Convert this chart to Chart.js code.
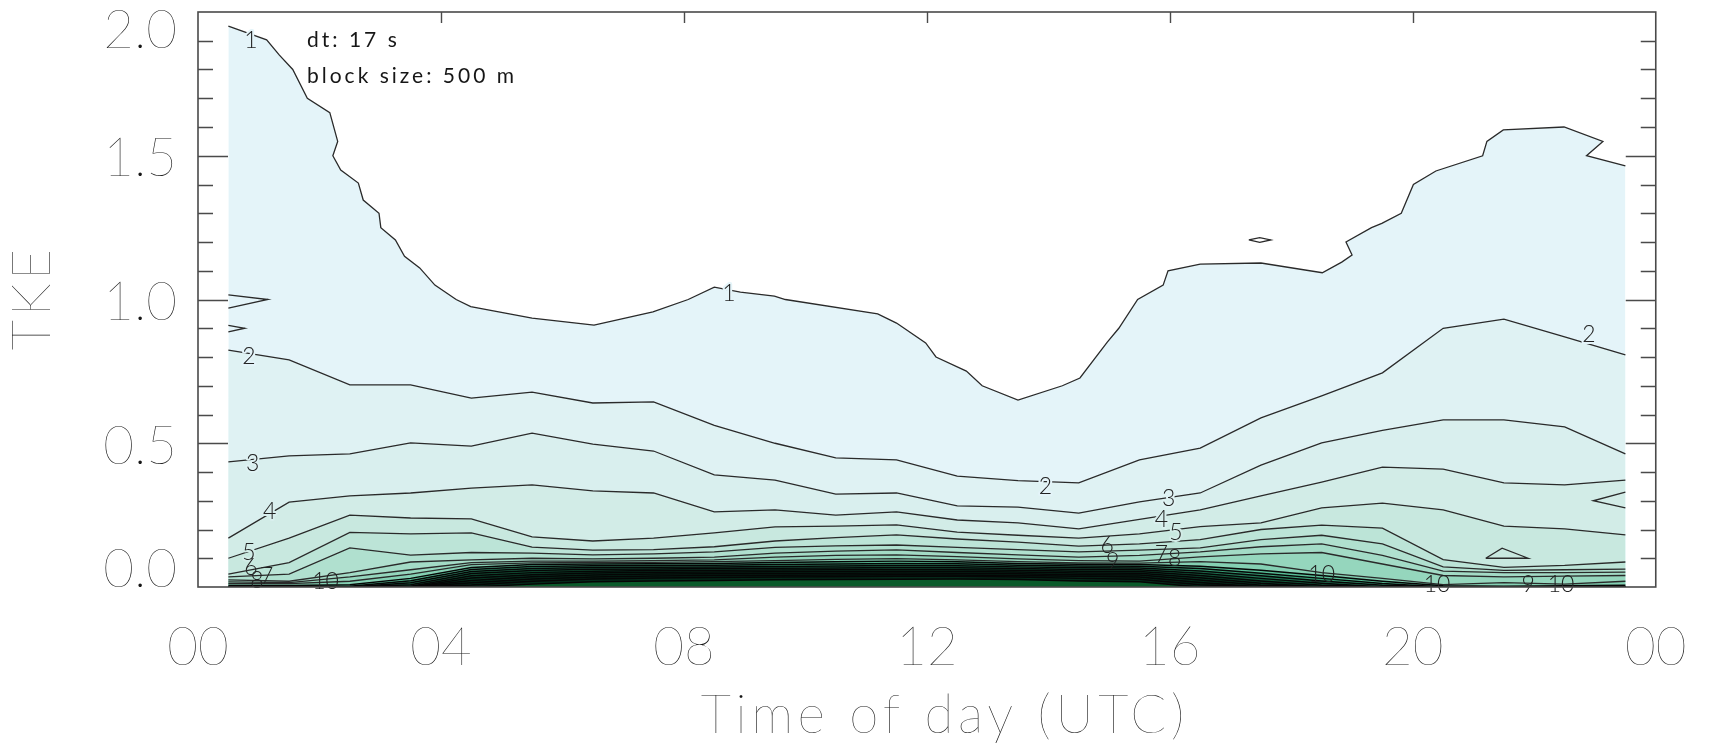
<!DOCTYPE html>
<html>
<head>
<meta charset="utf-8">
<script src="https://cdn.jsdelivr.net/npm/chart.js@4.4.0/dist/chart.umd.min.js"></script>
<style>
  html, body { margin: 0; padding: 0; background: #fff; }
  #wrap { width: 1721px; height: 745px; position: relative; }
</style>
</head>
<body>
<div id="wrap"><canvas id="tke-chart"></canvas></div>
<script>
// grid of the field (hour centres)
const hours = [0.5, 1.5, 2.5, 3.5, 4.5, 5.5, 6.5, 7.5, 8.5, 9.5, 10.5, 11.5,
               12.5, 13.5, 14.5, 15.5, 16.5, 17.5, 18.5, 19.5, 20.5, 21.5, 22.5, 23.5];

// contour 1 has its own vertices (it wanders a lot)
const hours1 = [0.5, 1.13, 1.34, 1.56, 1.80, 2.17, 2.30, 2.22, 2.35, 2.64, 2.72, 2.98, 3.01, 3.25, 3.40,
                3.65, 3.90, 4.25, 4.49, 5.50, 6.52, 7.49, 8.07, 8.50, 8.93, 9.49, 9.67, 11.19, 11.50,
                11.98, 12.15, 12.65, 12.91, 13.50, 14.23, 14.52, 14.97, 15.16, 15.47, 15.89, 15.97,
                16.50, 17.50, 18.51, 18.83, 19.00, 18.90, 19.32, 19.49, 19.81, 20.01, 20.38, 21.15,
                21.22, 21.49, 22.49, 23.13, 22.86, 23.50];
const tke1 = [1.951, 1.903, 1.850, 1.800, 1.700, 1.650, 1.550, 1.500, 1.450, 1.405, 1.346, 1.300, 1.250,
              1.207, 1.150, 1.110, 1.050, 1.000, 0.975, 0.935, 0.911, 0.957, 1.000, 1.043, 1.026, 1.012,
              1.000, 0.950, 0.918, 0.849, 0.800, 0.751, 0.700, 0.650, 0.700, 0.727, 0.852, 0.900, 1.000,
              1.050, 1.100, 1.123, 1.127, 1.093, 1.130, 1.155, 1.200, 1.250, 1.265, 1.300, 1.400, 1.447,
              1.500, 1.550, 1.590, 1.600, 1.550, 1.500, 1.465];

const tke2  = [0.824, 0.790, 0.703, 0.703, 0.657, 0.678, 0.640, 0.644, 0.562, 0.500, 0.449, 0.442, 0.386, 0.370, 0.362, 0.442, 0.483, 0.588, 0.665, 0.745, 0.900, 0.932, 0.870, 0.807];
const tke3  = [0.435, 0.456, 0.463, 0.501, 0.490, 0.535, 0.497, 0.473, 0.390, 0.372, 0.323, 0.327, 0.282, 0.278, 0.257, 0.296, 0.327, 0.424, 0.501, 0.545, 0.581, 0.581, 0.557, 0.463];
const tke4  = [0.170, 0.295, 0.317, 0.327, 0.344, 0.355, 0.334, 0.327, 0.261, 0.268, 0.250, 0.261, 0.233, 0.223, 0.202, 0.235, 0.268, 0.317, 0.365, 0.417, 0.410, 0.362, 0.355, 0.372];
const tke5  = [0.100, 0.170, 0.250, 0.240, 0.237, 0.174, 0.160, 0.170, 0.188, 0.209, 0.212, 0.216, 0.191, 0.180, 0.170, 0.185, 0.210, 0.223, 0.275, 0.292, 0.268, 0.212, 0.202, 0.181];
const tke6  = [0.045, 0.085, 0.190, 0.185, 0.188, 0.139, 0.128, 0.130, 0.140, 0.160, 0.172, 0.181, 0.167, 0.156, 0.142, 0.150, 0.165, 0.200, 0.215, 0.205, 0.095, 0.068, 0.075, 0.087];
const tke7  = [0.035, 0.045, 0.136, 0.111, 0.120, 0.118, 0.112, 0.115, 0.122, 0.138, 0.143, 0.146, 0.138, 0.130, 0.122, 0.128, 0.136, 0.165, 0.180, 0.150, 0.070, 0.058, 0.060, 0.062];
const tke8  = [0.025, 0.020, 0.050, 0.087, 0.094, 0.100, 0.098, 0.100, 0.104, 0.118, 0.125, 0.129, 0.120, 0.112, 0.104, 0.110, 0.122, 0.140, 0.150, 0.110, 0.055, 0.050, 0.050, 0.052];
const tke9  = [0.018, 0.015, 0.035, 0.060, 0.085, 0.090, 0.090, 0.092, 0.094, 0.104, 0.110, 0.112, 0.106, 0.098, 0.092, 0.090, 0.105, 0.115, 0.120, 0.080, 0.040, 0.035, 0.038, 0.040];
const tke10 = [0.012, 0.012, 0.020, 0.045, 0.078, 0.084, 0.086, 0.086, 0.088, 0.092, 0.096, 0.099, 0.094, 0.088, 0.084, 0.083, 0.088, 0.080, 0.050, 0.030, 0.008, 0.015, 0.010, 0.020];
const tke12 = [0.005, 0.005, 0.008, 0.030, 0.068, 0.078, 0.080, 0.081, 0.082, 0.085, 0.088, 0.090, 0.088, 0.082, 0.079, 0.078, 0.072, 0.058, 0.040, 0.020, 0.004, 0.003, 0.004, 0.006];
const tke14 = [0.000, 0.000, 0.003, 0.022, 0.061, 0.071, 0.074, 0.075, 0.076, 0.078, 0.080, 0.082, 0.081, 0.076, 0.073, 0.072, 0.064, 0.048, 0.030, 0.012, 0.000, 0.000, 0.000, 0.000];
const tke16 = [0.000, 0.000, 0.000, 0.015, 0.054, 0.064, 0.068, 0.069, 0.070, 0.071, 0.073, 0.075, 0.074, 0.070, 0.067, 0.066, 0.056, 0.039, 0.021, 0.006, 0.000, 0.000, 0.000, 0.000];
const tke18 = [0.000, 0.000, 0.000, 0.008, 0.047, 0.057, 0.062, 0.063, 0.064, 0.065, 0.066, 0.068, 0.067, 0.064, 0.061, 0.060, 0.048, 0.030, 0.013, 0.000, 0.000, 0.000, 0.000, 0.000];
const tke20 = [0.000, 0.000, 0.000, 0.003, 0.039, 0.050, 0.055, 0.057, 0.058, 0.059, 0.060, 0.061, 0.060, 0.058, 0.055, 0.054, 0.040, 0.021, 0.006, 0.000, 0.000, 0.000, 0.000, 0.000];
const tke22 = [0.000, 0.000, 0.000, 0.000, 0.031, 0.043, 0.049, 0.051, 0.052, 0.053, 0.054, 0.055, 0.054, 0.052, 0.049, 0.048, 0.032, 0.013, 0.000, 0.000, 0.000, 0.000, 0.000, 0.000];
const tke24 = [0.000, 0.000, 0.000, 0.000, 0.023, 0.036, 0.042, 0.045, 0.046, 0.047, 0.048, 0.049, 0.048, 0.046, 0.043, 0.042, 0.024, 0.006, 0.000, 0.000, 0.000, 0.000, 0.000, 0.000];
const tke26 = [0.000, 0.000, 0.000, 0.000, 0.015, 0.028, 0.035, 0.038, 0.040, 0.041, 0.042, 0.043, 0.042, 0.040, 0.037, 0.035, 0.016, 0.000, 0.000, 0.000, 0.000, 0.000, 0.000, 0.000];
const tke28 = [0.000, 0.000, 0.000, 0.000, 0.007, 0.020, 0.028, 0.031, 0.033, 0.035, 0.036, 0.037, 0.037, 0.035, 0.030, 0.027, 0.008, 0.000, 0.000, 0.000, 0.000, 0.000, 0.000, 0.000];
const tke30 = [0.000, 0.000, 0.000, 0.000, 0.000, 0.010, 0.018, 0.021, 0.023, 0.025, 0.026, 0.027, 0.028, 0.026, 0.021, 0.018, 0.000, 0.000, 0.000, 0.000, 0.000, 0.000, 0.000, 0.000];

const contourLevels = [1, 2, 3, 4, 5, 6, 7, 8, 9, 10, 12, 14, 16, 18, 20, 22, 24, 26, 28, 30];
const levelTke = [tke1, tke2, tke3, tke4, tke5, tke6, tke7, tke8, tke9, tke10,
                  tke12, tke14, tke16, tke18, tke20, tke22, tke24, tke26, tke28, tke30];
const bandColors = ['#e4f4f9', '#dff2f3', '#d9efee', '#d2ece7', '#c8e8df', '#bce4d7', '#b0e0cf',
                    '#a3dbc6', '#95d6bd', '#84d0b3', '#58bd96', '#379c74', '#217755', '#135a3c',
                    '#0c462e', '#083a25', '#06301e', '#052a1a', '#052a1a', '#0a5a2a'];

// small closed / broken contour pieces
const fragHours = [[0.5, 1.15, 0.5], [0.5, 0.77, 0.5], [17.3, 17.48, 17.66, 17.48, 17.3],
                   [23.5, 22.97, 23.5], [21.2, 21.47, 21.9, 21.2]];
const fragTke = [[1.016, 1.0, 0.97], [0.91, 0.90, 0.887], [1.207, 1.215, 1.207, 1.199, 1.207],
                 [0.33, 0.30, 0.275], [0.10, 0.135, 0.10, 0.10]];

// inline contour labels
const labelHours = [0.87, 8.74, 0.84, 13.95, 22.9, 0.9, 15.98, 1.18, 15.86, 0.84, 16.1, 14.97, 15.86, 16.08, 15.06,
                    0.87, 0.97, 1.13, 2.1, 18.5, 20.4, 21.9, 22.44];
const labelTke   = [1.90, 1.02, 0.80, 0.35, 0.877, 0.428, 0.306, 0.264, 0.236, 0.118, 0.19, 0.143, 0.112, 0.10, 0.09,
                    0.066, 0.024, 0.035, 0.018, 0.042, 0.010, 0.010, 0.010];
const labelText  = ['1', '1', '2', '2', '2', '3', '3', '4', '4', '5', '5', '6', '7', '8', '9',
                    '6', '8', '7', '10', '10', '10', '9', '10'];

const yTickValues = [0, 0.5, 1, 1.5, 2];
const yTickText = ['0.0', '0.5', '1.0', '1.5', '2.0'];
const xTickText = {0: '00', 4: '04', 8: '08', 12: '12', 16: '16', 20: '20', 24: '00'};

const AXIS_FONT = 'Lato, "Liberation Sans", sans-serif';
const TEXT_COLOR = '#161616';

const datasets = contourLevels.map((lev, i) => {
    const xs = i === 0 ? hours1 : hours;
    return {
        label: String(lev),
        data: xs.map((h, j) => ({x: h, y: levelTke[i][j]})),
        borderColor: i < 10 ? '#2a2a2a' : '#050505',
        borderWidth: i < 10 ? 1.3 : 1.5,
        backgroundColor: bandColors[i],
        fill: 'origin',
        pointRadius: 0,
        tension: 0,
        order: 100 - i
    };
});
fragHours.forEach((hs, k) => {
    datasets.push({
        label: 'frag' + k,
        data: hs.map((h, j) => ({x: h, y: fragTke[k][j]})),
        borderColor: '#2a2a2a',
        borderWidth: 1.3,
        fill: false,
        pointRadius: 0,
        tension: 0,
        order: 0
    });
});

const overlay = {
    id: 'overlay',
    afterDatasetsDraw(chart) {
        const {ctx, scales: {x, y}} = chart;
        ctx.save();
        ctx.font = '300 23px ' + AXIS_FONT;
        ctx.textAlign = 'center';
        ctx.textBaseline = 'middle';
        ctx.lineJoin = 'round';
        labelHours.forEach((h, i) => {
            const px = x.getPixelForValue(h), py = y.getPixelForValue(labelTke[i]);
            const lev = Number(labelText[i]);
            if (lev < 6) {
                ctx.lineWidth = 4;
                ctx.strokeStyle = bandColors[Math.max(0, contourLevels.indexOf(lev) - 1)];
                ctx.strokeText(labelText[i], px, py);
            }
            ctx.fillStyle = '#222';
            ctx.fillText(labelText[i], px, py);
        });
        ctx.restore();
    },
    afterDraw(chart) {
        const {ctx, chartArea: a, scales: {x, y}} = chart;
        ctx.save();
        // frame
        ctx.strokeStyle = '#4a4a4a';
        ctx.lineWidth = 1.6;
        ctx.strokeRect(a.left, a.top, a.right - a.left, a.bottom - a.top);
        // y ticks (inward, both sides)
        ctx.lineWidth = 1.4;
        ctx.beginPath();
        for (let i = 1; i < 20; i++) {
            const py = Math.round(y.getPixelForValue(i / 10)) + 0.5;
            const len = i % 5 === 0 ? 30 : 15;
            ctx.moveTo(a.left, py); ctx.lineTo(a.left + len, py);
            ctx.moveTo(a.right, py); ctx.lineTo(a.right - len, py);
        }
        // x ticks on the top axis
        for (let h = 4; h < 24; h += 4) {
            const px = Math.round(x.getPixelForValue(h)) + 0.5;
            ctx.moveTo(px, a.top); ctx.lineTo(px, a.top + 11);
        }
        ctx.stroke();
        // y tick labels, kept inside the axis range like the original
        ctx.fillStyle = TEXT_COLOR;
        ctx.font = '200 53px ' + AXIS_FONT;
        ctx.textAlign = 'right';
        ctx.textBaseline = 'middle';
        yTickValues.forEach((v, i) => {
            let py = y.getPixelForValue(v) + 3.5;
            py = Math.min(Math.max(py, a.top + 19), a.bottom - 17.5);
            ctx.fillText(yTickText[i], a.left - 21, py);
        });
        // axis titles
        ctx.textAlign = 'center';
        ctx.textBaseline = 'alphabetic';
        if ('letterSpacing' in ctx) ctx.letterSpacing = '4.6px';
        ctx.fillText('Time of day (UTC)', (a.left + a.right) / 2 + 18, 733);
        ctx.save();
        ctx.translate(50, (a.top + a.bottom) / 2);
        ctx.rotate(-Math.PI / 2);
        if ('letterSpacing' in ctx) ctx.letterSpacing = '4px';
        ctx.fillText('TKE', 2, 0);
        ctx.restore();
        // run info
        ctx.font = '400 21px ' + AXIS_FONT;
        ctx.textAlign = 'left';
        if ('letterSpacing' in ctx) ctx.letterSpacing = '3px';
        ctx.fillText('dt: 17 s', 307, 47);
        ctx.fillText('block size: 500 m', 307, 83);
        ctx.restore();
    }
};

new Chart(document.getElementById('tke-chart').getContext('2d'), {
    type: 'line',
    data: {datasets},
    options: {
        responsive: true,
        maintainAspectRatio: false,
        animation: false,
        layout: {padding: {top: 12, right: 33, left: 198, bottom: 36}},
        plugins: {
            legend: {display: false},
            tooltip: {enabled: false},
            filler: {propagate: false}
        },
        scales: {
            x: {
                type: 'linear',
                min: 0,
                max: 24,
                grid: {display: false, drawTicks: false},
                border: {display: false},
                ticks: {
                    stepSize: 4,
                    autoSkip: false,
                    maxRotation: 0,
                    padding: 34.5,
                    color: TEXT_COLOR,
                    font: {family: AXIS_FONT, size: 53, weight: 200, lineHeight: 1},
                    callback: v => xTickText[v]
                }
            },
            y: {
                type: 'linear',
                min: 0,
                max: 2,
                display: false
            }
        }
    },
    plugins: [overlay]
});
</script>
</body>
</html>
